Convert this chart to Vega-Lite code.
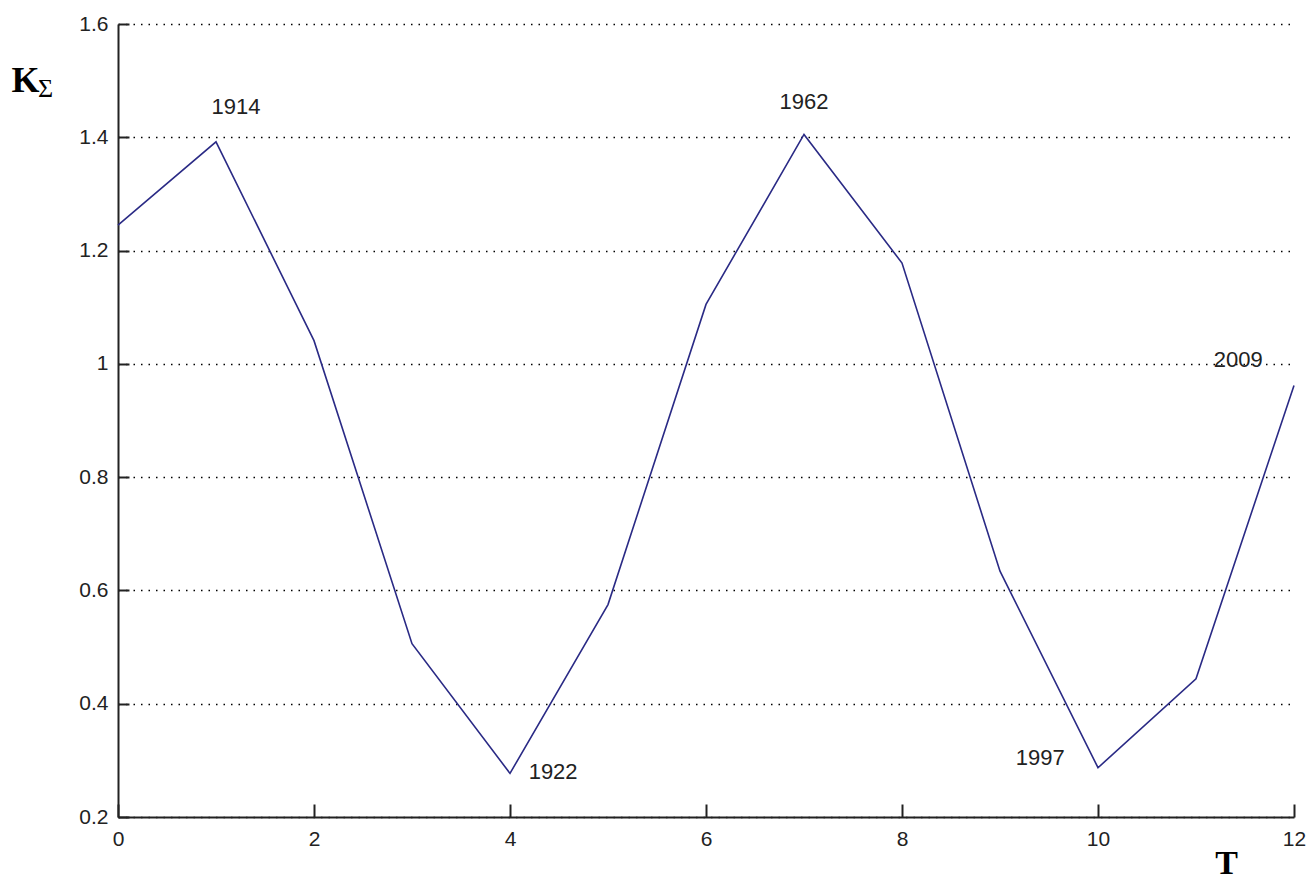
{
  "$schema": "https://vega.github.io/schema/vega-lite/v6.json",
  "width": 1176,
  "height": 793,
  "autosize": {"type": "none"},
  "padding": {"left": 118, "top": 24, "right": 18, "bottom": 63},
  "background": "white",
  "title": {
    "text": "Σ",
    "anchor": "start",
    "frame": "group",
    "orient": "top",
    "align": "left",
    "baseline": "alphabetic",
    "font": "Liberation Serif",
    "fontSize": 26,
    "fontWeight": "normal",
    "color": "#000000",
    "offset": 0,
    "dx": -80,
    "dy": 110
  },
  "config": {
    "view": {"stroke": null},
    "axis": {
      "labelFont": "Liberation Sans",
      "labelFontSize": 21,
      "labelColor": "#222222",
      "labelFlush": false,
      "labelOverlap": false,
      "domainColor": "#222222",
      "domainWidth": 2,
      "tickColor": "#222222",
      "tickWidth": 2
    }
  },
  "resolve": {"axis": {"x": "independent", "y": "independent"}},
  "datasets": {
    "series": [
      {"T": 0, "K": 1.245},
      {"T": 1, "K": 1.392},
      {"T": 2, "K": 1.041},
      {"T": 3, "K": 0.506},
      {"T": 4, "K": 0.277},
      {"T": 5, "K": 0.575},
      {"T": 6, "K": 1.105},
      {"T": 7, "K": 1.405},
      {"T": 8, "K": 1.178},
      {"T": 9, "K": 0.634},
      {"T": 10, "K": 0.287},
      {"T": 11, "K": 0.444},
      {"T": 12, "K": 0.962}
    ],
    "labels": [
      {"T": 1.204, "K": 1.453, "year": "1914"},
      {"T": 4.44, "K": 0.279, "year": "1922"},
      {"T": 7.0, "K": 1.462, "year": "1962"},
      {"T": 9.41, "K": 0.304, "year": "1997"},
      {"T": 11.43, "K": 1.007, "year": "2009"}
    ]
  },
  "layer": [
    {
      "data": {"name": "series"},
      "mark": {"type": "line", "color": "#2a2a85", "strokeWidth": 1.6},
      "encoding": {
        "x": {
          "field": "T",
          "type": "quantitative",
          "scale": {"domain": [0, 12], "nice": false, "zero": false},
          "axis": {
            "values": [0, 2, 4, 6, 8, 10, 12],
            "format": "d",
            "grid": false,
            "ticks": false,
            "labelPadding": 11,
            "title": "T",
            "titleFont": "Liberation Serif",
            "titleFontSize": 34,
            "titleFontWeight": "bold",
            "titleColor": "#000000",
            "titleAlign": "center",
            "titleBaseline": "alphabetic",
            "titleX": 1108,
            "titleY": 56
          }
        },
        "y": {
          "field": "K",
          "type": "quantitative",
          "scale": {"domain": [0.2, 1.6], "nice": false, "zero": false},
          "axis": {
            "values": [0.2, 0.4, 0.6, 0.8, 1, 1.2, 1.4, 1.6],
            "format": "~g",
            "grid": true,
            "gridColor": "#000000",
            "gridDash": [1.5, 6],
            "gridWidth": 1.3,
            "ticks": false,
            "labelPadding": 10,
            "title": "K",
            "titleFont": "Liberation Serif",
            "titleFontSize": 36,
            "titleFontWeight": "bold",
            "titleColor": "#000000",
            "titleAngle": 0,
            "titleAlign": "center",
            "titleBaseline": "alphabetic",
            "titleX": -93,
            "titleY": 67
          }
        }
      }
    },
    {
      "data": {"name": "labels"},
      "mark": {"type": "text", "font": "Liberation Sans", "fontSize": 22, "color": "#222222", "align": "center", "baseline": "middle"},
      "encoding": {
        "x": {
          "field": "T",
          "type": "quantitative",
          "axis": {
            "orient": "top",
            "offset": -793,
            "values": [0, 2, 4, 6, 8, 10, 12],
            "labels": false,
            "domain": false,
            "grid": false,
            "ticks": true,
            "tickSize": 13,
            "title": null
          }
        },
        "y": {
          "field": "K",
          "type": "quantitative",
          "axis": {
            "orient": "right",
            "offset": -1176,
            "values": [0.2, 0.4, 0.6, 0.8, 1, 1.2, 1.4, 1.6],
            "labels": false,
            "domain": false,
            "grid": false,
            "ticks": true,
            "tickSize": 11,
            "title": null
          }
        },
        "text": {"field": "year"}
      }
    }
  ]
}
